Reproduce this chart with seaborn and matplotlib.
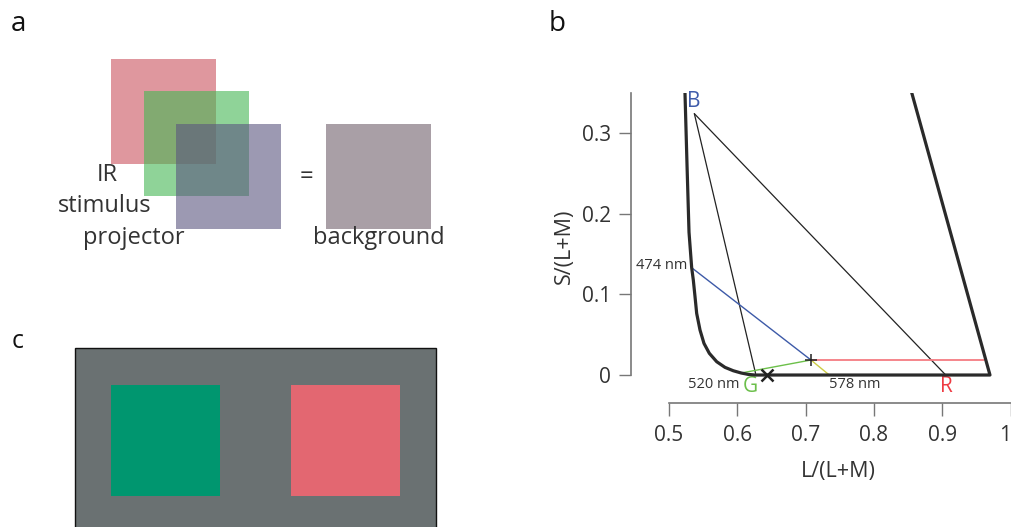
import matplotlib
matplotlib.use("Agg")
import matplotlib.pyplot as plt
from matplotlib.patches import Rectangle
import seaborn as sns

# ---- panel b data: MacLeod-Boynton chromaticity coordinates ----
# spectral locus (left branch down to 520 nm, along the bottom, up the purple line)
locus_l = [0.5238, 0.5268, 0.5297, 0.5336, 0.5360, 0.5385, 0.5409, 0.5458,
           0.5516, 0.5594, 0.5702, 0.5823, 0.5944, 0.6060, 0.6160, 0.6260,
           0.9697, 0.8553]
locus_s = [0.350, 0.260, 0.177, 0.133, 0.1176, 0.0969, 0.0764, 0.0557,
           0.0392, 0.0269, 0.0165, 0.0095, 0.0053, 0.0025, 0.0008, 0.0,
           0.0, 0.350]

primary_names = ["B", "G", "R"]
primary_l = [0.5375, 0.6270, 0.9050]
primary_s = [0.3240, 0.0020, 0.0000]
primary_colors = ["#3f5cab", "#6cbf4b", "#ee3b43"]

white_l, white_s = 0.7080, 0.0186          # "+" point
edge_l = 0.9614                             # red line meets purple line
background_l, background_s = 0.6440, 0.0    # "x" point

wl_names = ["474 nm", "520 nm", "578 nm"]
wl_l = [0.5336, 0.6060, 0.7348]
wl_s = [0.133, 0.0025, 0.0]
wl_colors = ["#3d5aa8", "#6cc04a", "#cccc44"]

x_ticks = [0.5, 0.6, 0.7, 0.8, 0.9, 1.0]
x_ticklabels = ["0.5", "0.6", "0.7", "0.8", "0.9", "1"]
y_ticks = [0.0, 0.1, 0.2, 0.3]
y_ticklabels = ["0", "0.1", "0.2", "0.3"]

# ---- panels a and c: schematic squares ----
projector_labels = ["IR", "stimulus", "projector"]
square_colors = ["#ca525d", "#44b753", "#5a5580"]
background_color = "#a99fa6"
stim_colors = ["#00966f", "#e36771"]
screen_color = "#6a7172"

sns.set_theme(style="white")
plt.rcParams["font.family"] = ["Open Sans", "DejaVu Sans"]
TXT = "#333333"

W, H = 1011, 527
fig = plt.figure(figsize=(W / 100, H / 100), dpi=100)

# full-figure canvas in pixel units for the schematic panels
cv = fig.add_axes([0, 0, 1, 1])
cv.set_xlim(0, W)
cv.set_ylim(H, 0)
cv.axis("off")

# panel letters
cv.text(18, 24, "a", fontsize=20, color="#111", ha="center", va="center")
cv.text(557, 24, "b", fontsize=20, color="#111", ha="center", va="center")
cv.text(18, 341, "c", fontsize=18, color="#111", ha="center", va="center")

# panel a: three overlapping projector squares and the background square
side = 105
for (x0, y0), c in zip([(111, 59), (144, 91), (176, 124)], square_colors):
    cv.add_patch(Rectangle((x0, y0), side, side, facecolor=c, alpha=0.6,
                           edgecolor="none"))
cv.add_patch(Rectangle((326, 124), side, side, facecolor=background_color,
                       edgecolor="none"))
for (x, y), t in zip([(107, 175), (105, 206), (134, 238)], projector_labels):
    cv.text(x, y, t, fontsize=17, color=TXT, ha="center", va="center")
cv.text(306, 177, "=", fontsize=17, color=TXT, ha="center", va="center")
cv.text(379, 238, "background", fontsize=17, color=TXT, ha="center", va="center")

# panel c: screen with the two stimulus squares
cv.add_patch(Rectangle((74.7, 348), 361, 200, facecolor=screen_color,
                       edgecolor="#111", linewidth=1))
for x0, c in zip([111, 291], stim_colors):
    cv.add_patch(Rectangle((x0, 385), 109, 110.7, facecolor=c, edgecolor="none"))

# panel b: chromaticity diagram
ax = fig.add_axes([668.7 / W, (H - 384.7) / H, 342 / W, 292 / H])
ax.patch.set_alpha(0)
ax.set_xlim(0.5, 1.0)
ax.set_ylim(-0.012, 0.35)

sns.lineplot(x=locus_l, y=locus_s, sort=False, estimator=None, ax=ax,
             color="#2a2a2a", linewidth=2.3, zorder=5)
# triangle sides from B to G and R
for i in (1, 2):
    sns.lineplot(x=[primary_l[0], primary_l[i]], y=[primary_s[0], primary_s[i]],
                 sort=False, estimator=None, ax=ax, color="#222", linewidth=0.9)
# confusion lines through the white point
for l, s, c in zip(wl_l, wl_s, wl_colors):
    sns.lineplot(x=[l, white_l], y=[s, white_s], sort=False, estimator=None,
                 ax=ax, color=c, linewidth=1.0)
sns.lineplot(x=[white_l, edge_l], y=[white_s, white_s], sort=False,
             estimator=None, ax=ax, color="#f47c82", linewidth=1.3)

ax.plot([white_l], [white_s], marker="+", color="#222", markersize=9,
        markeredgewidth=1.1, zorder=6)
ax.plot([background_l], [background_s], marker="x", color="#222", markersize=8,
        markeredgewidth=1.8, zorder=6)

# primary letters
ax.annotate(primary_names[0], (primary_l[0], primary_s[0]), xytext=(-0.5, 8.5),
            textcoords="offset points", ha="center", va="center",
            fontsize=15, color=primary_colors[0])
ax.annotate(primary_names[1], (primary_l[1], primary_s[1]), xytext=(-3.5, -9.5),
            textcoords="offset points", ha="center", va="center",
            fontsize=15, color=primary_colors[1])
ax.annotate(primary_names[2], (primary_l[2], primary_s[2]), xytext=(0.5, -8),
            textcoords="offset points", ha="center", va="center",
            fontsize=15, color=primary_colors[2])
# wavelength labels
ax.annotate(wl_names[0], (wl_l[0], wl_s[0]), xytext=(-3, 1.5),
            textcoords="offset points", ha="right", va="center",
            fontsize=10.5, color=TXT)
ax.annotate(wl_names[1], (wl_l[1], wl_s[1]), xytext=(-1.5, -8),
            textcoords="offset points", ha="right", va="center",
            fontsize=10.5, color=TXT)
ax.annotate(wl_names[2], (wl_l[2], wl_s[2]), xytext=(0, -7),
            textcoords="offset points", ha="left", va="center",
            fontsize=10.5, color=TXT)

# detached axes
sns.despine(ax=ax)
for side_name, off in (("left", 27.1), ("bottom", 13.2)):
    sp = ax.spines[side_name]
    sp.set_position(("outward", off))
    sp.set_color("#777777")
    sp.set_linewidth(1.2)
ax.spines["left"].set_bounds(0, 0.35)
ax.spines["bottom"].set_bounds(0.5, 1.0)
ax.set_xticks(x_ticks, x_ticklabels)
ax.set_yticks(y_ticks, y_ticklabels)
ax.tick_params(axis="both", length=9, width=1, color="#777777",
               labelsize=15, labelcolor=TXT, pad=5.5, direction="out")
ax.tick_params(axis="x", pad=7)
ax.tick_params(bottom=True, left=True)
# keep the last x tick label inside the figure edge
ax.get_xticklabels()[-1].set_horizontalalignment("right")

ax.set_xlabel("L/(L+M)", fontsize=15.5, color=TXT, va="center")
ax.xaxis.set_label_coords((838 - 668.7) / 342, (384.7 - 471) / 292)
ax.set_ylabel("S/(L+M)", fontsize=15.5, color=TXT, va="center")
ax.yaxis.set_label_coords((564 - 668.7) / 342, (384.7 - 246.7) / 292)

fig.savefig("out.png", dpi=100)
